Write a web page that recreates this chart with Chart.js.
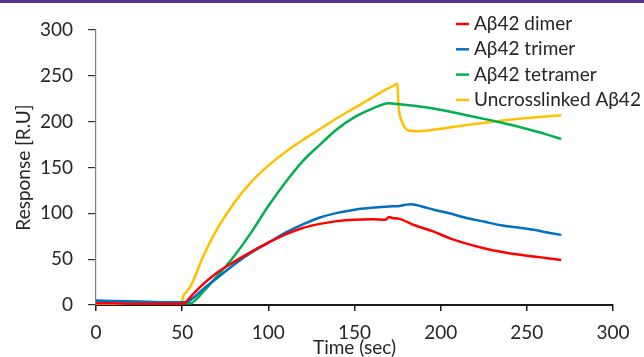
<!DOCTYPE html>
<html>
<head>
<meta charset="utf-8">
<script src="https://cdn.jsdelivr.net/npm/chart.js@4/dist/chart.umd.min.js"></script>
<style>
  html, body { margin: 0; padding: 0; background: #fff; }
  #wrap { position: relative; width: 644px; height: 357px; overflow: hidden; }
  #bar { position: absolute; left: 0; top: 0; width: 644px; height: 3px; background: #55308c; }
  canvas { position: absolute; left: 0; top: 0; }
</style>
</head>
<body>
<div id="wrap">
  <canvas id="c" width="644" height="357"></canvas>
  <div id="bar"></div>
</div>
<script>
// ---- data ----
const seriesLabels = ["Aβ42 dimer", "Aβ42 trimer", "Aβ42 tetramer", "Uncrosslinked Aβ42"];
const seriesColors = ["#ff0000", "#0070c0", "#00b050", "#ffc000"];

const dimerT = [0, 10, 20, 30, 40, 50, 51.5, 54, 60, 70, 80, 90, 100, 110, 120, 130, 140, 150, 160, 168, 170, 172, 176, 185, 196, 205, 215, 225, 235, 245, 254, 262, 270];
const dimerV = [2, 2, 1.5, 1.5, 1.5, 1.5, 2, 7, 19, 35, 47, 58, 68, 77, 84, 88.5, 91.5, 93, 93.5, 93, 96, 95, 94, 87, 80, 73, 67, 62, 58, 55, 53, 51, 49];

const trimerT = [0, 10, 20, 30, 40, 50, 52, 56, 62, 70, 80, 90, 100, 110, 120, 130, 140, 150, 160, 170, 176, 180, 183, 190, 196, 205, 215, 225, 235, 245, 254, 262, 270];
const trimerV = [5, 4.5, 4, 3.5, 3, 3, 3, 7, 17, 29, 44, 57, 68, 79, 88, 95.5, 100.5, 104, 106, 107.5, 108, 109.5, 110, 107, 104, 100, 95, 91, 87, 84.5, 82, 79, 76.5];

const tetramerT = [0, 10, 20, 30, 40, 50, 55, 58, 62, 70, 80, 90, 100, 110, 120, 130, 140, 150, 160, 166, 170, 176, 190, 205, 220, 235, 250, 260, 270];
const tetramerV = [3, 3, 2.5, 2, 2, 2, 2, 6, 14, 31, 53, 79, 108, 134, 157, 175, 192, 205, 214, 218.5, 220, 219, 216, 211, 205, 199, 192, 187, 181];

const uncrossT = [0, 10, 20, 30, 40, 49.5, 50.7, 52, 55, 62, 70, 80, 90, 100, 110, 120, 130, 140, 150, 160, 168, 172, 175, 175.3, 176, 177.5, 179, 182, 186, 195, 210, 230, 250, 270];
const uncrossV = [1, 1, 1, 0.5, 0.5, 1, 10, 13, 21, 52, 82, 111, 134, 152, 167, 180, 192, 204, 215, 226, 235, 238.5, 241.5, 225, 210, 200, 194, 190, 189.5, 191, 195, 200, 204, 207];

const xTicks = [0, 50, 100, 150, 200, 250, 300];
const yTicks = [0, 50, 100, 150, 200, 250, 300];

const pairs = (t, v) => t.map((x, i) => ({ x: x, y: v[i] }));
const seriesData = [pairs(dimerT, dimerV), pairs(trimerT, trimerV), pairs(tetramerT, tetramerV), pairs(uncrossT, uncrossV)];

const FONT = "Lato, 'Open Sans', sans-serif";
const TEXT = "#262626";

const legendPlugin = {
  id: 'customLegend',
  afterDraw(chart) {
    const ctx = chart.ctx;
    ctx.save();
    ctx.font = "19px " + FONT;
    ctx.textBaseline = "middle";
    ctx.textAlign = "left";
    chart.data.datasets.forEach((ds, i) => {
      const y = 24 + i * 25.3;
      ctx.strokeStyle = ds.borderColor;
      ctx.lineWidth = 2.5;
      ctx.beginPath();
      ctx.moveTo(456, y);
      ctx.lineTo(469, y);
      ctx.stroke();
      ctx.fillStyle = TEXT;
      ctx.fillText(ds.label, 474, y);
    });
    ctx.restore();
  }
};

new Chart(document.getElementById('c'), {
  type: 'line',
  data: {
    datasets: seriesLabels.map((lab, i) => ({
      label: lab,
      data: seriesData[i],
      borderColor: seriesColors[i],
      backgroundColor: seriesColors[i],
      borderWidth: 2.5,
      pointRadius: 0,
      fill: false,
      cubicInterpolationMode: 'monotone'
    }))
  },
  options: {
    responsive: false,
    animation: false,
    devicePixelRatio: 1,
    layout: { padding: { top: 30, right: 31, left: 0, bottom: 0 } },
    plugins: { legend: { display: false }, tooltip: { enabled: false } },
    scales: {
      x: {
        type: 'linear',
        min: 0, max: 300,
        afterBuildTicks(scale) { scale.ticks = xTicks.map(v => ({ value: v })); },
        afterFit(scale) { scale.height = 52; },
        grid: { display: true, drawOnChartArea: false, drawTicks: true, tickLength: 6, color: '#1a1a1a', lineWidth: 1.5 },
        border: { display: true, color: '#1a1a1a', width: 2 },
        ticks: { color: TEXT, font: { family: FONT, size: 19 }, padding: 10, maxRotation: 0 },
        title: { display: true, text: 'Time (sec)', color: TEXT, font: { family: FONT, size: 19, lineHeight: 1 }, padding: 0 }
      },
      y: {
        type: 'linear',
        min: 0, max: 300,
        afterBuildTicks(scale) { scale.ticks = yTicks.map(v => ({ value: v })); },
        afterFit(scale) { scale.width = 96; },
        grid: { display: true, drawOnChartArea: false, drawTicks: true, tickLength: 8, color: '#333333', lineWidth: 1.2 },
        border: { display: true, color: '#7f7f7f', width: 1.2 },
        ticks: { color: TEXT, font: { family: FONT, size: 19 }, padding: 15 },
        title: { display: true, text: 'Response [R.U]', color: TEXT, font: { family: FONT, size: 19, lineHeight: 1 }, padding: { top: 14, bottom: 0 } }
      }
    }
  },
  plugins: [legendPlugin]
});
</script>
</body>
</html>
